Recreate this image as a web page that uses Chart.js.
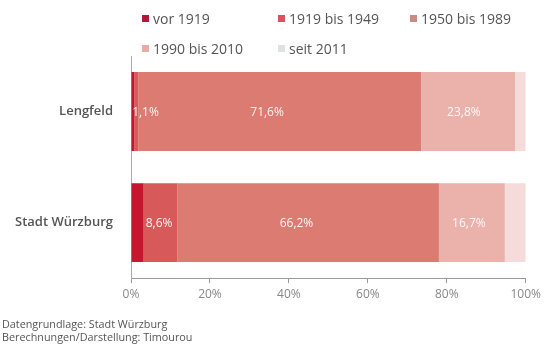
<!DOCTYPE html>
<html>
<head>
<meta charset="utf-8">
<script src="https://cdn.jsdelivr.net/npm/chart.js@4"></script>
<style>
  body { margin: 0; background: #fff; }
  #wrap { position: relative; width: 545px; height: 347px; }
  #legend {
    position: absolute; left: 142px; top: 3px;
    display: grid; grid-template-columns: 136px 132px 130px; grid-auto-rows: 30px;
    font-family: "Open Sans", sans-serif; font-size: 14px; color: #555;
  }
  #legend .item { display: flex; align-items: center; }
  #legend .box { width: 7px; height: 7px; margin-right: 4px; }
</style>
</head>
<body>
<div id="wrap">
  <canvas id="chart" width="545" height="347"></canvas>
  <div id="legend"></div>
</div>
<script>
const categories = ['Lengfeld', 'Stadt Würzburg'];
const seriesNames = ['vor 1919', '1919 bis 1949', '1950 bis 1989', '1990 bis 2010', 'seit 2011'];
const vor1919 = [0.8, 3.2];
const bis1949 = [1.1, 8.6];
const bis1989 = [71.6, 66.2];
const bis2010 = [23.8, 16.7];
const seit2011 = [2.7, 5.3];
const xTicks = [0, 20, 40, 60, 80, 100];
const footer = ['Datengrundlage: Stadt Würzburg', 'Berechnungen/Darstellung: Timourou'];

const barColors = ['#c5162f', '#d8595a', '#dc7b71', '#eab2ab', '#f5dcda'];
const legendColors = ['#b5163c', '#d9535a', '#c98a84', '#eaaaa6', '#dde2e4'];
const labelled = [false, true, true, true, false];

const allSeries = [vor1919, bis1949, bis1989, bis2010, seit2011];

// legend as html grid
const legendEl = document.getElementById('legend');
seriesNames.forEach((name, i) => {
    const item = document.createElement('div');
    item.className = 'item';
    const box = document.createElement('span');
    box.className = 'box';
    box.style.background = legendColors[i];
    const txt = document.createElement('span');
    txt.textContent = name;
    item.appendChild(box);
    item.appendChild(txt);
    legendEl.appendChild(item);
});

const fmt = v => v.toFixed(1).replace('.', ',') + '%';

const segmentLabels = {
    id: 'segmentLabels',
    afterDatasetsDraw(chart) {
        const ctx = chart.ctx;
        ctx.save();
        ctx.font = '12px "Open Sans"';
        ctx.fillStyle = 'rgba(255,255,255,0.92)';
        ctx.textBaseline = 'middle';
        chart.data.datasets.forEach((ds, di) => {
            if (!labelled[di]) return;
            chart.getDatasetMeta(di).data.forEach((bar, i) => {
                const left = Math.min(bar.x, bar.base);
                const right = Math.max(bar.x, bar.base);
                const text = fmt(ds.data[i]);
                const w = ctx.measureText(text).width;
                let x;
                if (w + 4 > right - left) {
                    ctx.textAlign = 'left';
                    x = left - 2;
                } else {
                    ctx.textAlign = 'center';
                    x = (left + right) / 2 - 0.045 * (right - left);
                }
                ctx.fillText(text, x, bar.y + 1);
            });
        });
        ctx.restore();
    }
};

new Chart(document.getElementById('chart'), {
    type: 'bar',
    data: {
        labels: categories,
        datasets: allSeries.map((d, i) => ({
            label: seriesNames[i],
            data: d,
            backgroundColor: barColors[i],
            borderWidth: 0,
            barPercentage: 0.71,
            categoryPercentage: 1
        }))
    },
    options: {
        indexAxis: 'y',
        responsive: false,
        animation: false,
        layout: { padding: { top: 56, left: 2, right: 18, bottom: 0 } },
        plugins: {
            legend: { display: false },
            tooltip: { enabled: false },
            title: {
                display: true,
                position: 'bottom',
                align: 'start',
                text: footer,
                color: '#555',
                font: { family: 'Open Sans', size: 10.8, weight: 'normal', lineHeight: 1.2 },
                padding: { top: 4, bottom: 3 }
            }
        },
        scales: {
            x: {
                stacked: true,
                min: 0,
                max: 100,
                afterBuildTicks: (scale) => { scale.ticks = xTicks.map(v => ({ value: v })); },
                ticks: {
                    color: '#888',
                    font: { family: 'Open Sans', size: 12 },
                    padding: 4,
                    callback: v => v + '%'
                },
                grid: { display: true, drawOnChartArea: false, drawTicks: true, tickLength: 5, color: '#999' },
                border: { display: true, color: '#999' },
                afterFit: (scale) => { scale.height = 36; }
            },
            y: {
                stacked: true,
                ticks: {
                    color: '#555',
                    font: { family: 'Open Sans', size: 13, weight: 600 },
                    padding: 10
                },
                grid: { display: false },
                border: { display: true, color: '#aaa' },
                afterFit: (scale) => { scale.width = 129; }
            }
        }
    },
    plugins: [segmentLabels]
});
</script>
</body>
</html>
